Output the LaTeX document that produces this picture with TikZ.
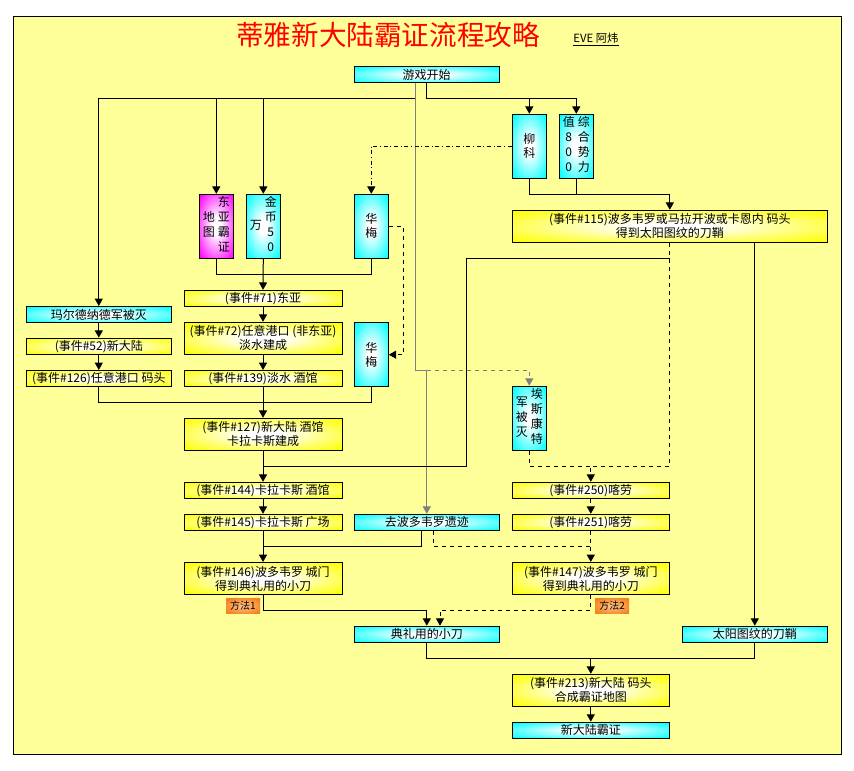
\documentclass[tikz,border=0pt]{standalone}
\usepackage{fontspec}
\setmainfont{Noto Sans CJK SC}
\usetikzlibrary{arrows.meta,calc}
\definecolor{bgyel}{RGB}{255,255,153}
\definecolor{byel}{RGB}{255,255,0}
\definecolor{bcyan}{RGB}{0,255,255}
\definecolor{bmag}{RGB}{255,0,255}
\definecolor{orgout}{RGB}{245,130,30}
\definecolor{orgin}{RGB}{255,185,120}
\pgfdeclareradialshading{shy}{\pgfpoint{0bp}{0bp}}{color(0bp)=(white); color(6bp)=(white); color(34bp)=(byel); color(50bp)=(byel)}
\pgfdeclareradialshading{shc}{\pgfpoint{0bp}{0bp}}{color(0bp)=(white); color(6bp)=(white); color(34bp)=(bcyan); color(50bp)=(bcyan)}
\pgfdeclareradialshading{shm}{\pgfpoint{0bp}{0bp}}{color(0bp)=(white); color(6bp)=(white); color(34bp)=(bmag); color(50bp)=(bmag)}
\pgfdeclareradialshading{sho}{\pgfpoint{0bp}{0bp}}{color(0bp)=(orgin); color(6bp)=(orgin); color(30bp)=(orgout); color(50bp)=(orgout)}
\renewcommand\arraystretch{1.07}
\newcommand\vcol[1]{\begin{tabular}{@{}c@{}}#1\end{tabular}}
\tikzset{
  box/.style={draw=black, line width=0.75pt, inner sep=0pt, align=center,
    font=\fontsize{9pt}{10.5pt}\selectfont},
  ybox/.style={box, shade, shading=shy},
  cbox/.style={box, shade, shading=shc},
  mbox/.style={box, shade, shading=shm},
  obox/.style={draw=none, inner sep=0pt, shade, shading=sho,
    font=\fontsize{7.5pt}{9pt}\selectfont, minimum width=25.5pt, minimum height=11.25pt},
  sz/.style 2 args={minimum width={#1*0.75pt}, minimum height={#2*0.75pt}},
  ln/.style={line width=0.75pt, draw=black},
  gln/.style={line width=0.75pt, draw=gray},
  arr/.style={-{Triangle[width=6pt,length=5.5pt]}},
}
\begin{document}
\begin{tikzpicture}[x=0.75pt,y=-0.75pt]
\useasboundingbox (0,0) rectangle (854,771);
\draw[line width=0.75pt, fill=bgyel] (13,16) rectangle (841,754);

\node[text=red, font=\fontsize{20.7pt}{24pt}\selectfont] (title) at (388,35) {蒂雅新大陆霸证流程攻略};
\node[font=\fontsize{8.5pt}{10pt}\selectfont] (author) at (596,40) {\underline{EVE 阿炜}};

% top
\node[cbox, sz={145}{16}] (start) at (426.5,74.5) {游戏开始};
\node[cbox, sz={34}{64}] (liuke) at (529.3,146.3) {柳\\科};
\node[cbox, sz={34}{64}] (zonghe) at (576.3,146.3) {\vcol{值\\8\\0\\0}\hspace{2.25pt}\vcol{综\\合\\势\\力}};
\node[ybox, sz={315}{32}] (e115) at (669.8,226.3) {(事件\#115)波多韦罗或马拉开波或卡恩内 码头\\得到太阳图纹的刀鞘};

\node[mbox, sz={34}{64}] (dymap) at (216.3,226.3) {\vcol{地\\图}\hspace{2.25pt}\vcol{东\\亚\\霸\\证}};
\node[cbox, sz={34}{64}] (jinbi) at (263.3,226.3) {\vcol{万}\hspace{2.25pt}\vcol{金\\币\\5\\0}};
\node[cbox, sz={34}{64}] (huamei1) at (371.3,226.3) {华\\梅};
\node[cbox, sz={34}{64}] (huamei2) at (371.3,354.7) {华\\梅};

% left column
\node[cbox, sz={145}{16}] (mar) at (98.8,314.5) {玛尔德纳德军被灭};
\node[ybox, sz={145}{16}] (e52) at (98.8,346.2) {(事件\#52)新大陆};
\node[ybox, sz={145}{16}] (e126) at (98.8,378.5) {(事件\#126)任意港口 码头};

% middle column
\node[ybox, sz={158}{16}] (e71) at (263,298.3) {(事件\#71)东亚};
\node[ybox, sz={158}{32}] (e72) at (263,338.3) {(事件\#72)任意港口 (非东亚)\\淡水建成};
\node[ybox, sz={158}{16}] (e139) at (263,378.5) {(事件\#139)淡水 酒馆};
\node[ybox, sz={158}{32}] (e127) at (263,434.3) {(事件\#127)新大陆 酒馆\\卡拉卡斯建成};
\node[ybox, sz={158}{16}] (e144) at (263,490.3) {(事件\#144)卡拉卡斯 酒馆};
\node[ybox, sz={158}{16}] (e145) at (263,522.3) {(事件\#145)卡拉卡斯 广场};
\node[ybox, sz={158}{32}] (e146) at (263,578.5) {(事件\#146)波多韦罗 城门\\得到典礼用的小刀};

\node[cbox, sz={145}{16}] (quboduo) at (426.8,522.3) {去波多韦罗遗迹};
\node[cbox, sz={145}{16}] (dianli) at (426.8,634.2) {典礼用的小刀};

% right column
\node[cbox, sz={34}{64}] (aisi) at (529.3,418.2) {\vcol{军\\被\\灭}\hspace{2.25pt}\vcol{埃\\斯\\康\\特}};
\node[ybox, sz={157}{16}] (e250) at (590.8,490.3) {(事件\#250)喀劳};
\node[ybox, sz={157}{16}] (e251) at (590.8,522.3) {(事件\#251)喀劳};
\node[ybox, sz={157}{32}] (e147) at (590.8,578.5) {(事件\#147)波多韦罗 城门\\得到典礼用的小刀};
\node[cbox, sz={145}{16}] (taiyang) at (754.8,634.2) {太阳图纹的刀鞘};
\node[ybox, sz={157}{32}] (e213) at (590.8,690.3) {(事件\#213)新大陆 码头\\合成霸证地图};
\node[cbox, sz={157}{16}] (final) at (590.8,730.2) {新大陆霸证};

\node[obox] (m1) at (243,605.8) {方法1};
\node[obox] (m2) at (612.2,605.8) {方法2};

% helper coordinates
\coordinate (hy) at (0,98.3);
\coordinate (gy) at (0,370);
\coordinate (j1) at (0,194.3);
\coordinate (j2) at (0,274);
\coordinate (j3) at (0,402);
\coordinate (k1) at (466.3,258.3);
\coordinate (j6) at (0,466);
\coordinate (j7) at (0,546);
\coordinate (j8) at (0,610.3);
\coordinate (j9) at (0,658.3);
\coordinate (g0) at ($(start.south)+(-11.2,0)$);
\coordinate (qa) at ($(quboduo.south)+(-5.5,0)$);
\coordinate (qb) at ($(quboduo.south)+(6.5,0)$);
\coordinate (dn2) at ($(dianli.north)+(13.2,0)$);

% connectors from start
\draw[ln,arr] (start.south) -- (start.south |- hy) -| (zonghe.north);
\draw[ln,arr] (liuke.north |- hy) -- (liuke.north);
\draw[ln] (g0 |- hy) -- (mar.north |- hy);
\draw[ln,arr] (mar.north |- hy) -- (mar.north);
\draw[ln,arr] (dymap.north |- hy) -- (dymap.north);
\draw[ln,arr] (jinbi.north |- hy) -- (jinbi.north);
\draw[gln,arr] (g0) -- (g0 |- gy) -- (quboduo.north |- gy) -- (quboduo.north);
\draw[gln,dashed,arr] (quboduo.north |- gy) -| (aisi.north);

% liuke / zonghe -> e115
\draw[ln,arr] (liuke.south) -- (liuke.south |- j1) -| (e115.north);
\draw[ln] (zonghe.south) -- (zonghe.south |- j1);
\draw[ln,dash dot,arr] (liuke.west) -| (huamei1.north);
\draw[ln,dashed,arr] (huamei1.east) -- ++(14.4,0) |- (huamei2.east);

% -> e71
\draw[ln] (dymap.south) |- (huamei1.south |- j2) -- (huamei1.south);
\draw[ln,arr] (jinbi.south) -- (e71.north);
\draw[ln,arr] (e71.south) -- (e72.north);
\draw[ln,arr] (e72.south) -- (e139.north);
\draw[ln,arr] (mar.south) -- (e52.north);
\draw[ln,arr] (e52.south) -- (e126.north);
\draw[ln] (e126.south) |- (huamei2.south |- j3) -- (huamei2.south);
\draw[ln,arr] (e139.south) -- (e127.north);
\draw[ln,arr] (e127.south) -- (e144.north);
\draw[ln,arr] (e144.south) -- (e145.north);
\draw[ln,arr] (e145.south) -- (e146.north);

% e115 outputs
\draw[ln,dashed,arr] (e115.south) |- (e250.north |- j6) -- (e250.north);
\draw[ln,dashed] (aisi.south) |- (e250.north |- j6);
\draw[ln] (e115.south |- k1) -- (k1) |- (e144.north |- j6);
\draw[ln,arr] (taiyang.north |- e115.south) -- (taiyang.north);
\draw[ln,dashed,arr] (e250.south) -- (e251.north);
\draw[ln,dashed,arr] (e251.south) -- (e147.north);

% quboduo outputs
\draw[ln] (qa) |- (e146.north |- j7);
\draw[ln,dashed] (qb) |- (e147.north |- j7);

% -> dianli
\draw[ln,arr] (e146.south) |- (dianli.north |- j8) -- (dianli.north);
\draw[ln,dashed,arr] (e147.south) |- (dn2 |- j8) -- (dn2);

% -> e213
\draw[ln] (dianli.south) |- (taiyang.south |- j9) -- (taiyang.south);
\draw[ln,arr] (e213.north |- j9) -- (e213.north);
\draw[ln,arr] (e213.south) -- (final.north);
\end{tikzpicture}
\end{document}
